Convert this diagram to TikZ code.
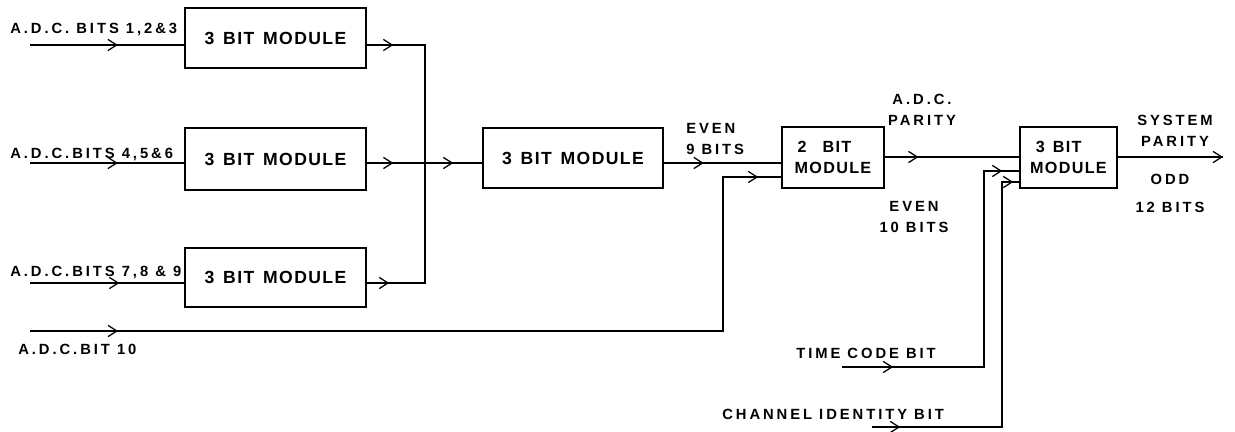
\documentclass[tikz,border=0pt]{standalone}
\usepackage{fontspec}
\setmainfont{Liberation Sans}
\newfontfamily\lblfont[LetterSpace=20]{Liberation Sans}
\newfontfamily\boxfont[LetterSpace=8]{Liberation Sans}
\usetikzlibrary{arrows.meta,decorations.markings}
\tikzset{
  modulebox/.style={rectangle,draw,line width=1.3pt,inner sep=0pt,
    font=\boxfont\bfseries\fontsize{12.5}{15}\selectfont},
  smallbox/.style={modulebox,align=left,font=\boxfont\bfseries\fontsize{11.5}{14.5}\selectfont},
  wire/.style={line width=0.9pt},
  sigtext/.style={inner sep=0pt,font=\lblfont\bfseries\fontsize{10.5}{14.5}\selectfont},
  tip/.style={postaction={decorate},decoration={markings,
    mark=at position #1 with {\arrow{Straight Barb[length=2.2mm,width=2.8mm,line width=0.9pt]}}}},
  tiptwo/.style 2 args={postaction={decorate},decoration={markings,
    mark=at position #1 with {\arrow{Straight Barb[length=2.2mm,width=2.8mm,line width=0.9pt]}},
    mark=at position #2 with {\arrow{Straight Barb[length=2.2mm,width=2.8mm,line width=0.9pt]}}}}
}
\begin{document}
\begin{tikzpicture}[x=0.025cm,y=-0.025cm]
  \useasboundingbox (0,0) rectangle (1235,432);

  % modules
  \node[modulebox,minimum width=181*0.025cm,minimum height=60*0.025cm] (m1) at (275.5,38) {3\enspace BIT\enspace MODULE};
  \node[modulebox,minimum width=181*0.025cm,minimum height=62*0.025cm] (m2) at (275.5,159) {3\enspace BIT\enspace MODULE};
  \node[modulebox,minimum width=181*0.025cm,minimum height=59*0.025cm] (m3) at (275.5,277.5) {3\enspace BIT\enspace MODULE};
  \node[modulebox,minimum width=180*0.025cm,minimum height=60*0.025cm] (m4) at (573,158) {3\enspace BIT\enspace MODULE};
  \node[smallbox,minimum width=102*0.025cm,minimum height=61*0.025cm] (m5) at (833,157.5) {\hspace*{2pt}2\quad BIT\\MODULE};
  \node[smallbox,minimum width=97*0.025cm,minimum height=61*0.025cm] (m6) at (1068.5,157.5) {\hspace*{4pt}3\enspace BIT\\MODULE};

  % free ends
  \coordinate (in1) at (30,45);
  \coordinate (in2) at (30,163);
  \coordinate (in3) at (30,283);
  \coordinate (in10) at (30,331);
  \coordinate (tc) at (842,367);
  \coordinate (ci) at (872,427);
  \coordinate (bus) at (425,163);
  \coordinate (out) at (1223,157);

  % labels
  \node[sigtext,anchor=west] (l1) at (10,29) {A.D.C. BITS 1,2\&3};
  \node[sigtext,anchor=west] (l2) at (10,154) {A.D.C.BITS 4,5\&6};
  \node[sigtext,anchor=west] (l3) at (10,272) {A.D.C.BITS 7,8 \& 9};
  \node[sigtext,anchor=west] (l10) at (18,349) {A.D.C.BIT 10};
  \node[sigtext,align=left,anchor=west] (e9) at (686,139) {EVEN\\9 BITS};
  \node[sigtext,align=center] (ap) at (922,110) {A.D.C.\\PARITY};
  \node[sigtext,align=center] (e10) at (914,217) {EVEN\\10 BITS};
  \node[sigtext,align=center] (sp) at (1175,131) {SYSTEM\\PARITY};
  \node[sigtext] (odd) at (1170,179) {ODD};
  \node[sigtext] (b12) at (1170,207) {12 BITS};
  \node[sigtext,anchor=west] (tcl) at (796,353) {TIME CODE BIT};
  \node[sigtext,anchor=west] (cil) at (722,414) {CHANNEL IDENTITY BIT};

  % connectors
  \draw[wire,tip=0.57] (in1) -- (in1 -| m1.west);
  \draw[wire,tip=0.57] (in2) -- (m2.west |- in2);
  \draw[wire,tip=0.58] (in3) -- (m3.west |- in3);
  \draw[wire,tip=0.15] (m1.east |- in1) -| (bus);
  \draw[wire,tip=0.125] (m3.east |- in3) -| (bus);
  \draw[wire,tiptwo={0.23}{0.75}] (m2.east |- in2) -- (m4.west |- in2);
  \draw[wire,tip=0.34] (m4.east |- in2) -- (m5.west |- in2);
  \draw[wire,tiptwo={2.2cm}{22.05cm}] (in10) -| (723,177) -- (m5.west |- 0,177);
  \draw[wire,tip=0.25] (m5.east |- out) -- (m6.west |- out);
  \draw[wire,tiptwo={0.137}{0.955}] (tc) -| (984,171) -- (m6.west |- 0,171);
  \draw[wire,tiptwo={0.072}{0.985}] (ci) -| (1002,182) -- (m6.west |- 0,182);
  \draw[wire,tip=1] (m6.east |- out) -- (out);
\end{tikzpicture}
\end{document}
